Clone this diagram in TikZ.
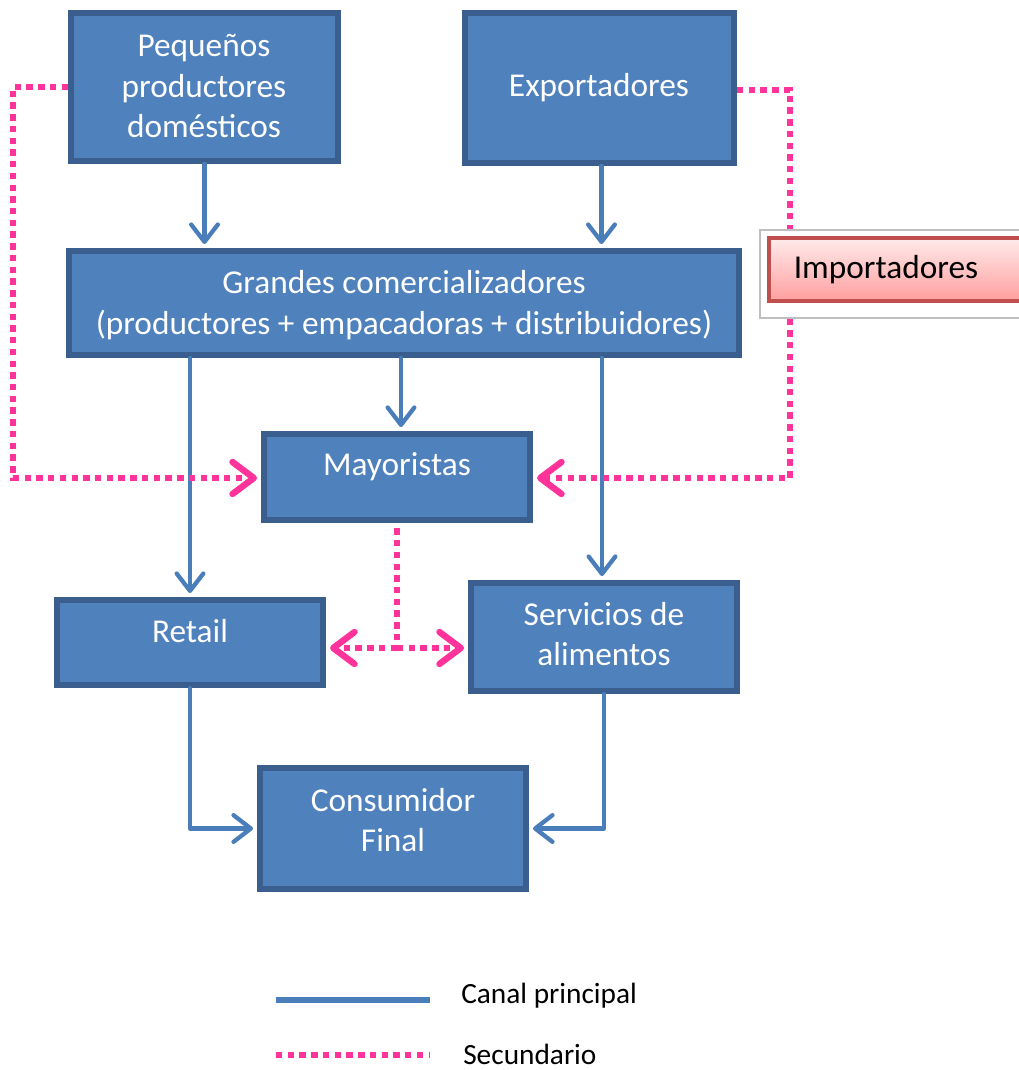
\documentclass[tikz,border=0pt]{standalone}
\usepackage{fontspec}
\setmainfont{Carlito}
\usetikzlibrary{arrows.meta}

\definecolor{cajaazul}{HTML}{4F81BD}
\definecolor{bordeazul}{HTML}{3A5F8E}
\definecolor{lineaazul}{HTML}{4A7EBB}
\definecolor{rosa}{HTML}{FF3399}
\definecolor{bordero}{HTML}{C0504D}

\tikzstyle{caja}=[draw=bordeazul,fill=cajaazul,line width=4.5pt,inner sep=0pt]
\tikzstyle{texto}=[text=white,align=center,font=\fontsize{25}{30.5}\selectfont]
\tikzstyle{principal}=[lineaazul,line width=3.2pt,line cap=round,line join=round,shorten >=3pt,-{Straight Barb[length=13pt,width=20pt,round]}]
\tikzstyle{secundario}=[rosa,line width=4.8pt,dash pattern=on 4.8pt off 4pt]
\tikzstyle{punta}=[shorten >=3pt,-{Straight Barb[length=16pt,width=24pt,round]}]

\begin{document}
\begin{tikzpicture}[x=0.75pt,y=-0.75pt]
	\useasboundingbox (0,0) rectangle (1019,1070);
	\clip (0,0) rectangle (1019,1070);

	% cajas (sizes in pt, 1px = 0.75pt)
	\node[caja,minimum width=200.25pt,minimum height=111pt] (peq) at (204.5,87) {};
	\node[caja,minimum width=201.75pt,minimum height=112.5pt] (exp) at (599.5,88) {};
	\node[caja,minimum width=502.5pt,minimum height=78pt] (gra) at (404,303) {};
	\node[caja,minimum width=199.5pt,minimum height=64.5pt] (may) at (397,477) {};
	\node[caja,minimum width=199.5pt,minimum height=63.75pt] (ret) at (190,642.5) {};
	\node[caja,minimum width=199.5pt,minimum height=81pt] (ser) at (604,637) {};
	\node[caja,minimum width=199.5pt,minimum height=90.75pt] (con) at (393,828.5) {};

	\node[texto] (peqt) at (204,86) {Pequeños\\productores\\domésticos};
	\node[texto] (expt) at (599,88) {Exportadores};
	\node[texto] (grat) at (404,305) {Grandes comercializadores\\(productores + empacadoras + distribuidores)};
	\node[texto] (mayt) at (397,467) {Mayoristas};
	\node[texto] (rett) at (190,631) {Retail};
	\node[texto] (sert) at (604,634) {Servicios de\\alimentos};
	\node[texto] (cont) at (393,820) {Consumidor\\Final};

	% canal principal
	\draw[principal] (peq.south) -- (peq.south |- gra.north);
	\draw[principal] ([xshift=1.5pt]exp.south) -- ([xshift=1.5pt]exp.south |- gra.north);
	\draw[principal] (gra.south -| ret.north) -- (ret.north);
	\draw[principal] ([xshift=3pt]gra.south -| may.north) -- ([xshift=3pt]may.north);
	\draw[principal] ([xshift=-1.5pt]gra.south -| ser.north) -- ([xshift=-1.5pt]ser.north);
	\draw[principal] (ret.south) |- (con.west);
	\draw[principal] (ser.south) |- (con.east);

	% secundario
	\draw[secundario,punta] (peq.west) -- ++(-55,0) |- ([yshift=-0.75pt]may.west);
	\draw[secundario,punta] ([yshift=-1.5pt]exp.east) -- ++(53,0) |- ([yshift=-0.75pt]may.east);
	\coordinate (cruce) at (397,648);
	\draw[secundario] ([yshift=-4pt]may.south) -- (cruce);
	\draw[secundario,punta] (cruce) -- (cruce -| ret.east);
	\draw[secundario,punta] (cruce) -- (cruce -| ser.west);

	% importadores
	\node[draw=black!25,line width=1pt,fill=white,minimum width=202.5pt,minimum height=66pt] (impm) at (895,274) {};
	\node[draw=bordero,line width=2.5pt,top color=red!8,bottom color=red!38,minimum width=192pt,minimum height=47.25pt] (imp) at (897,269.5) {};
	\node[font=\fontsize{25}{30.5}\selectfont] (impt) at (886,270) {Importadores};

	% leyenda
	\coordinate (l1a) at (276,1000);
	\coordinate (l1b) at (430,1000);
	\coordinate (l2a) at (276,1055);
	\coordinate (l2b) at (430,1055);
	\draw[lineaazul,line width=4.5pt] (l1a) -- (l1b);
	\draw[secundario] (l2a) -- (l2b);
	\node[anchor=west,inner sep=0pt,font=\fontsize{22}{26}\selectfont] (ley1) at (461,996) {Canal principal};
	\node[anchor=west,inner sep=0pt,font=\fontsize{22}{26}\selectfont] (ley2) at (463,1054) {Secundario};
\end{tikzpicture}
\end{document}
